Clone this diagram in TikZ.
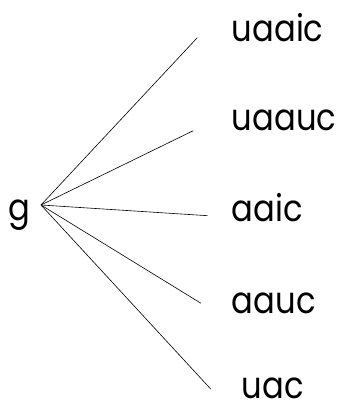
\documentclass[tikz,border=0pt]{standalone}
\usepackage{fontspec}
\setmainfont{Poppins}[FakeStretch=0.87]
\begin{document}
\begin{tikzpicture}[x=1pt,y=1pt,
  lbl/.style={anchor=base west,inner sep=0pt,font=\fontsize{37}{42}\selectfont},
  edge/.style={draw=black,line width=0.6pt}]
\useasboundingbox (0,0) rectangle (337,410);
\coordinate (r) at (41,205);
\coordinate (e1) at (197.3,372.3);
\coordinate (e2) at (193.3,279.3);
\coordinate (e3) at (207.7,194.3);
\coordinate (e4) at (201,106.7);
\coordinate (e5) at (210.7,21);
\node[lbl] (g) at (8.3,189) {g};
\node[lbl] (n1) at (231.7,368.3) {uaaic};
\node[lbl] (n2) at (231.7,279.3) {uaauc};
\node[lbl] (n3) at (231.7,188.3) {aaic};
\node[lbl] (n4) at (231.7,96.7) {aauc};
\node[lbl] (n5) at (241.7,12) {uac};
\foreach \i in {1,...,5} \draw[edge] (r) -- (e\i);
\end{tikzpicture}
\end{document}
